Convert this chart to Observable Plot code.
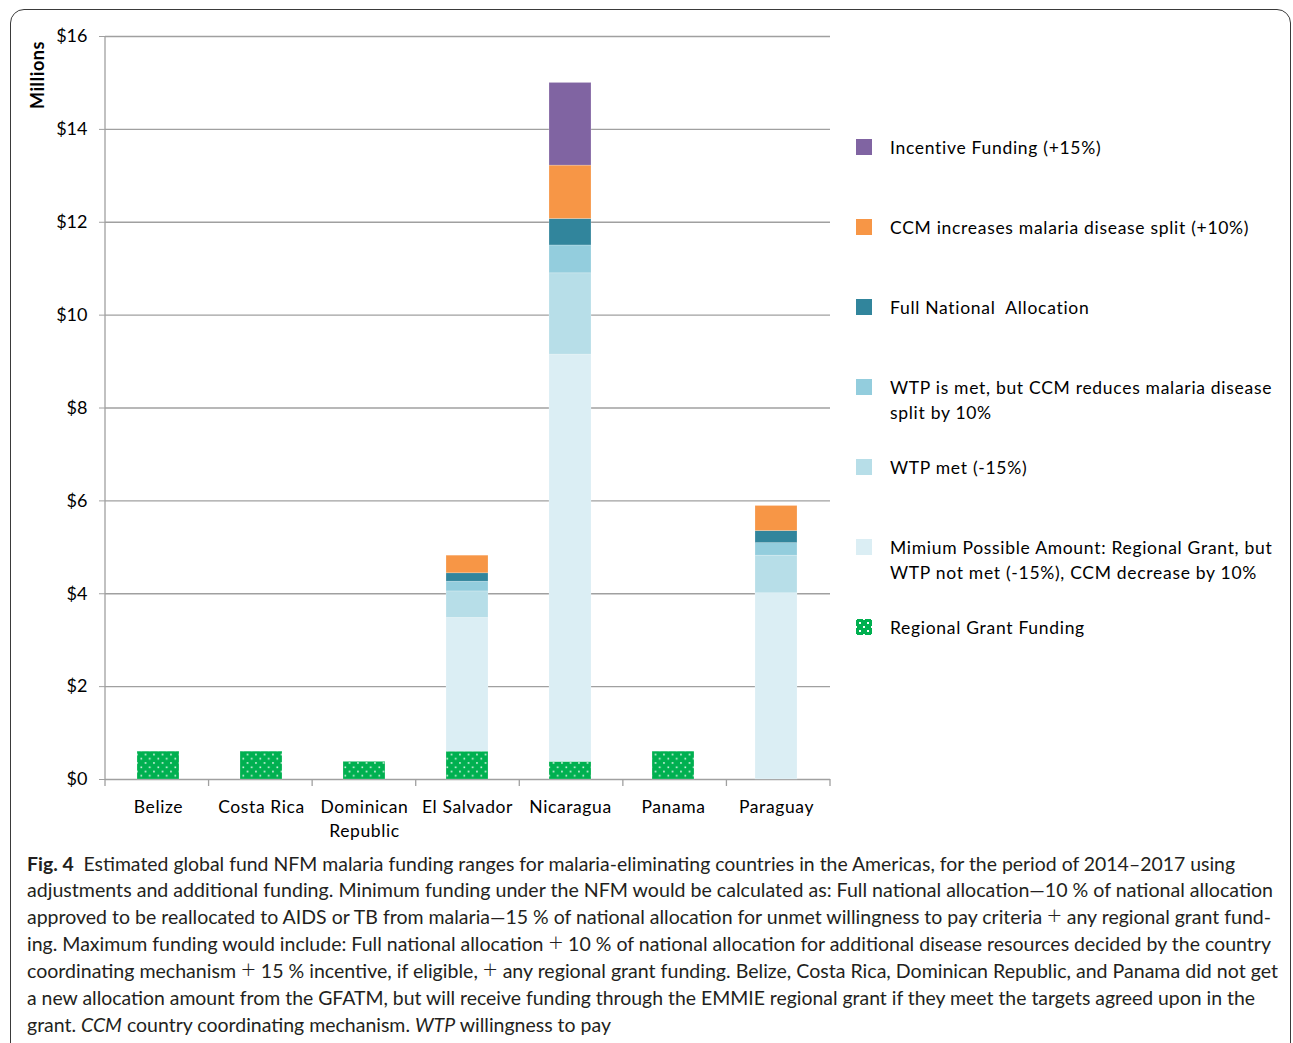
<!DOCTYPE html>
<html>
<head>
<meta charset="utf-8">
<script src="https://cdn.jsdelivr.net/npm/d3@7"></script>
<script src="https://cdn.jsdelivr.net/npm/@observablehq/plot@0.6"></script>
<style>
  html, body { margin: 0; padding: 0; background: #fff; }
  #wrap { position: relative; width: 1293px; height: 1043px; overflow: hidden; font-family: Lato, "Open Sans", sans-serif; color: #000; }
  #border { position: absolute; left: 10px; top: 9px; width: 1281px; height: 1100px; border: 1.3px solid #3a3a3a; border-radius: 14px; box-sizing: border-box; }
  #chart { position: absolute; left: 0; top: 0; }
  #ylabel { position: absolute; left: 37px; top: 75px; transform: translate(-50%, -50%) rotate(-90deg); font-weight: bold; font-size: 18px; letter-spacing: 0.6px; white-space: nowrap; }
  .leg { position: absolute; left: 856px; font-size: 17.5px; line-height: 25px; letter-spacing: 0.7px; }
  .leg .sw { position: absolute; left: 0; top: 4.5px; width: 16px; height: 16px; }
  .leg .tx { position: absolute; left: 34px; top: 0; white-space: nowrap; }
  .cap { position: absolute; left: 27px; font-size: 19px; line-height: 27px; white-space: nowrap; color: #231f20; transform-origin: left center; }
  .cap .pl { font-size: 1.3em; line-height: 0; font-weight: 300; }
</style>
</head>
<body>
<div id="wrap">
  <div id="border"></div>
  <div id="chart"></div>
  <div id="ylabel">Millions</div>
  <div id="legend"></div>
  <div id="caption"></div>
</div>
<script>
// ---------- data ----------
const countries = ["Belize", "Costa Rica", "Dominican Republic", "El Salvador", "Nicaragua", "Panama", "Paraguay"];
const countryLabels = ["Belize", "Costa Rica", "Dominican\nRepublic", "El Salvador", "Nicaragua", "Panama", "Paraguay"];
// stacking order, bottom to top
const series = [
  "Regional Grant Funding",
  "Mimium Possible Amount: Regional Grant, but WTP not met (-15%), CCM decrease by 10%",
  "WTP met (-15%)",
  "WTP is met, but CCM reduces malaria disease split by 10%",
  "Full National  Allocation",
  "CCM increases malaria disease split (+10%)",
  "Incentive Funding (+15%)"
];
const legendLines = [
  ["Incentive Funding (+15%)"],
  ["CCM increases malaria disease split (+10%)"],
  ["Full National\u00a0 Allocation"],
  ["WTP is met, but CCM reduces malaria disease", "split by 10%"],
  ["WTP met (-15%)"],
  ["Mimium Possible Amount: Regional Grant, but", "WTP not met (-15%), CCM decrease by 10%"],
  ["Regional Grant Funding"]
];
const colors = ["url(#dots)", "#dbeef4", "#b7dee8", "#93cddd", "#31859c", "#f79646", "#8064a2"];

const regional   = [0.60, 0.60, 0.38, 0.60, 0.38, 0.60, 0.00];
const minimum    = [0, 0, 0, 2.88, 8.77, 0, 4.01];
const wtpMet     = [0, 0, 0, 0.57, 1.75, 0, 0.81];
const wtpCcm     = [0, 0, 0, 0.21, 0.60, 0, 0.27];
const fullAlloc  = [0, 0, 0, 0.18, 0.57, 0, 0.26];
const ccmInc     = [0, 0, 0, 0.38, 1.15, 0, 0.54];
const incentive  = [0, 0, 0, 0.00, 1.78, 0, 0.00];
const yTicks = [0, 2, 4, 6, 8, 10, 12, 14, 16];

const PL = "<span class='pl'>+</span>";
const captionLines = [
  "<b>Fig. 4</b>\u2002Estimated global fund NFM malaria funding ranges for malaria-eliminating countries in the Americas, for the period of 2014\u20132017 using",
  "adjustments and additional funding. Minimum funding under the NFM would be calculated as: Full national allocation\u201410 % of national allocation",
  "approved to be reallocated to AIDS or TB from malaria\u201415 % of national allocation for unmet willingness to pay criteria " + PL + " any regional grant fund-",
  "ing. Maximum funding would include: Full national allocation " + PL + " 10 % of national allocation for additional disease resources decided by the country",
  "coordinating mechanism " + PL + " 15 % incentive, if eligible, " + PL + " any regional grant funding. Belize, Costa Rica, Dominican Republic, and Panama did not get",
  "a new allocation amount from the GFATM, but will receive funding through the EMMIE regional grant if they meet the targets agreed upon in the",
  "grant. <i>CCM</i> country coordinating mechanism. <i>WTP</i> willingness to pay"
];
const captionRightEdges = [1235, 1273, 1271, 1271, 1278, 1255, 611];

// ---------- build table ----------
const seriesValues = [regional, minimum, wtpMet, wtpCcm, fullAlloc, ccmInc, incentive];
const data = [];
countries.forEach((c, i) => {
  series.forEach((s, j) => {
    const v = seriesValues[j][i];
    if (v > 0) data.push({country: c, series: s, value: v});
  });
});

const W = 840, H = 845, mL = 105, mR = 10, mT = 36, mB = 66;

// custom mark: y-axis line and category boundary ticks on x axis
function frameTicks(index, scales, values, dimensions) {
  const g = d3.create("svg:g");
  const {width, marginLeft, marginRight} = dimensions;
  const y0 = scales.y(0), y1 = scales.y(16);
  g.append("line").attr("x1", marginLeft).attr("x2", marginLeft).attr("y1", y0).attr("y2", y1)
    .attr("stroke", "#a0a0a0").attr("stroke-width", 1.3);
  const n = countries.length;
  const pw = width - marginLeft - marginRight;
  for (let i = 0; i <= n; i++) {
    const x = marginLeft + i * pw / n;
    g.append("line").attr("x1", x).attr("x2", x).attr("y1", y0).attr("y2", y0 + 7)
      .attr("stroke", "#a0a0a0").attr("stroke-width", 1.3);
  }
  return g.node();
}

const plot = Plot.plot({
  width: W, height: H,
  marginLeft: mL, marginRight: mR, marginTop: mT, marginBottom: mB,
  style: {fontFamily: "Lato, 'Open Sans', sans-serif", fontSize: "17.5px", color: "#000", background: "transparent"},
  x: {domain: countries, paddingInner: 0.59, paddingOuter: 0.295, label: null},
  y: {domain: [0, 16], label: null},
  color: {domain: series, range: colors, legend: false},
  marks: [
    Plot.gridY(yTicks, {stroke: "#a0a0a0", strokeOpacity: 1, strokeWidth: 1.3}),
    Plot.barY(data, {x: "country", y: "value", fill: "series", stroke: "#ffffff", strokeOpacity: 0.35, strokeWidth: 0.6}),
    frameTicks,
    Plot.axisY(yTicks, {tickSize: 6, tickPadding: 12, stroke: "#a0a0a0", tickFormat: d => "$" + d, label: null, fontSize: 18}),
    Plot.axisX({tickSize: 0, tickPadding: 17, tickFormat: d => countryLabels[countries.indexOf(d)], label: null, lineHeight: 1.35})
  ]
});

// x tick labels slightly wider spacing
d3.select(plot).selectAll("g[aria-label='x-axis tick label'] text").attr("letter-spacing", "0.6px");

// dotted pattern for regional grant funding
const defs = d3.select(plot).insert("defs", ":first-child");
const pat = defs.append("pattern").attr("id", "dots").attr("patternUnits", "userSpaceOnUse")
  .attr("width", 8.5).attr("height", 8.5).attr("x", mL).attr("y", 0);
pat.append("rect").attr("width", 8.5).attr("height", 8.5).attr("fill", "#00b050");
pat.append("rect").attr("x", 1.5).attr("y", 1.5).attr("width", 1.5).attr("height", 1.5).attr("fill", "#ffffff");
pat.append("rect").attr("x", 5.75).attr("y", 5.75).attr("width", 1.5).attr("height", 1.5).attr("fill", "#ffffff");

document.getElementById("chart").appendChild(plot);

// ---------- legend ----------
const legend = document.getElementById("legend");
const legendSeries = series.slice().reverse();
const legendColors = colors.slice().reverse();
legendLines.forEach((lines, k) => {
  const item = document.createElement("div");
  item.className = "leg";
  item.style.top = (147 - 12.5 + 80 * k) + "px";
  const sw = document.createElement("div");
  sw.className = "sw";
  const col = legendColors[k];
  if (col.startsWith("url")) {
    sw.style.background = "#00b050";
    sw.style.backgroundImage = "radial-gradient(#ffffff 0.8px, transparent 1px), radial-gradient(#ffffff 0.8px, transparent 1px)";
    sw.style.backgroundSize = "8px 8px";
    sw.style.backgroundPosition = "0 0, 4px 4px";
  } else {
    sw.style.background = col;
  }
  item.appendChild(sw);
  const tx = document.createElement("div");
  tx.className = "tx";
  tx.innerHTML = lines.join("<br>");
  tx.title = legendSeries[k];
  item.appendChild(tx);
  legend.appendChild(item);
});

// ---------- caption ----------
const cap = document.getElementById("caption");
const spans = captionLines.map((l, i) => {
  const d = document.createElement("div");
  d.className = "cap";
  d.style.top = (849.5 + 26.85 * i) + "px";
  d.innerHTML = l;
  cap.appendChild(d);
  return d;
});
spans.forEach((s, i) => {
  const w = s.getBoundingClientRect().width;
  s.style.transform = "scaleX(" + ((captionRightEdges[i] - 27) / w) + ")";
});
</script>
</body>
</html>
